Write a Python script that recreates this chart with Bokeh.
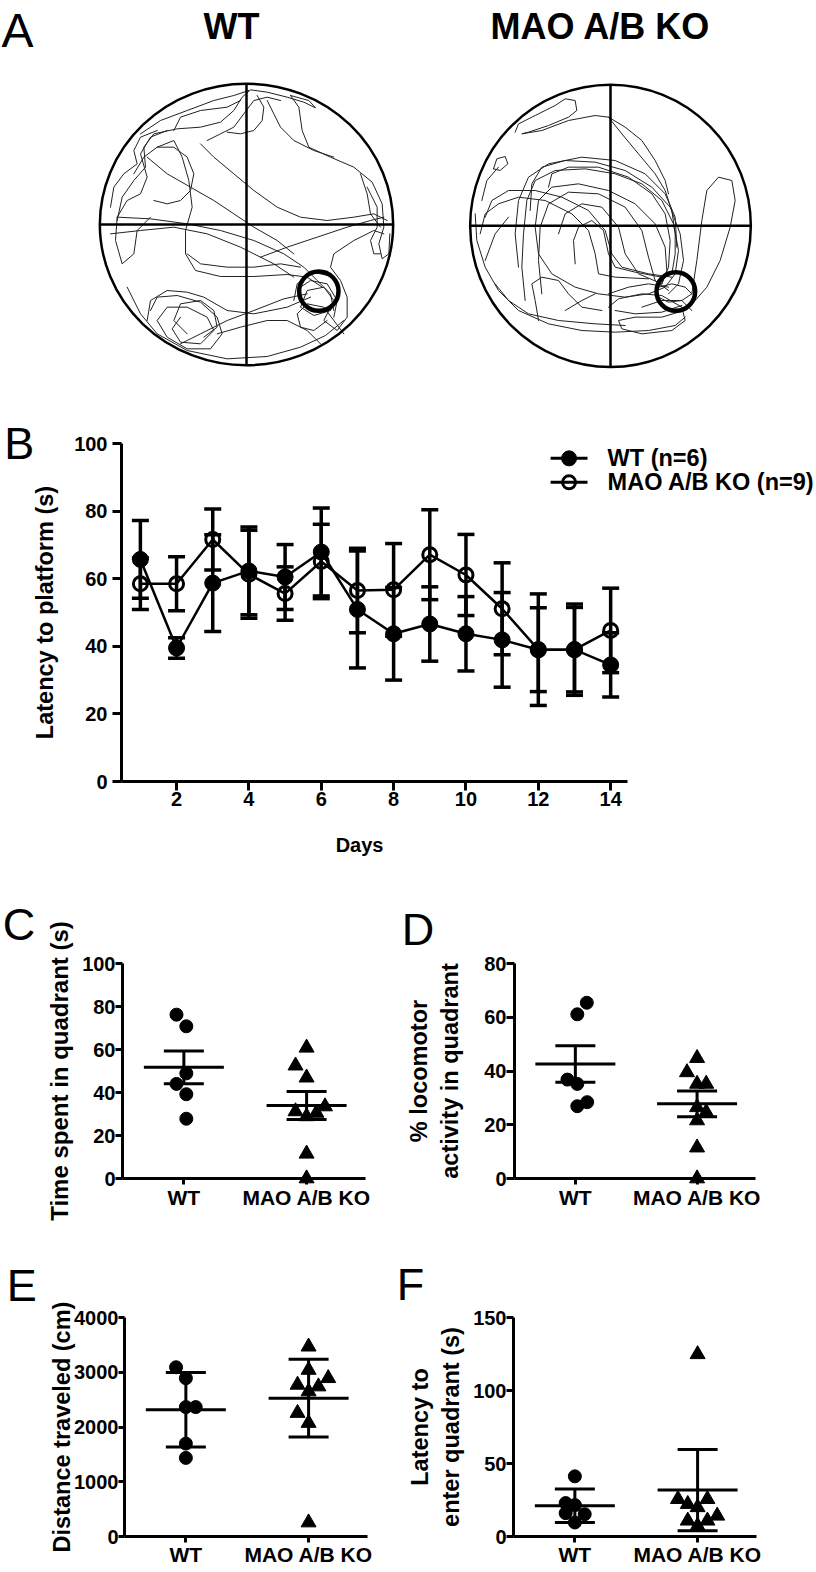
import numpy as np
from bokeh.plotting import figure
from bokeh.layouts import column, row
from bokeh.models import Range1d, FixedTicker
from bokeh.embed import file_html
from bokeh.resources import INLINE
from bokeh.core.properties import value

FONT = "Liberation Sans"

# ---------------- Panel A: swim-path traces (tracking-grid units) ----------------
wt_arena = dict(cx=738, cy=672, w=880, h=845)
wt_platform = dict(x=955, y=872, d=118)
ko_arena = dict(cx=606, cy=676, w=842, h=847)
ko_platform = dict(x=802, y=873, d=116)

wt_paths = [
    [(350, 660), (365, 590), (400, 540), (435, 500), (430, 440), (460, 400), (530, 385), (600, 380), (660, 365),
     (700, 330), (725, 290), (750, 268), (800, 275), (860, 290), (910, 305), (945, 322), (925, 300), (870, 285)],
    [(870, 285), (895, 320), (905, 390), (925, 440), (990, 470), (1060, 500), (1115, 545), (1145, 610), (1150, 680),
     (1135, 730), (1145, 775), (1165, 760), (1168, 700)],
    [(470, 440), (520, 420), (545, 470), (565, 540), (575, 620), (555, 690), (555, 760), (585, 810), (660, 828),
     (760, 828), (860, 822), (920, 830), (965, 860)],
    [(500, 390), (450, 410), (420, 460), (440, 530), (420, 580), (380, 600), (350, 650), (345, 720), (365, 790),
     (400, 760), (410, 690), (450, 650)],
    [(350, 650), (450, 655), (560, 670), (660, 690), (760, 720), (850, 760), (910, 800), (950, 840), (990, 880),
     (1000, 930)],
    [(330, 700), (420, 690), (520, 680), (620, 700), (720, 740), (820, 790), (880, 830)],
    [(450, 930), (470, 890), (530, 885), (600, 905), (650, 950), (665, 1000), (630, 1045), (560, 1045), (500, 1010),
     (470, 960), (500, 920), (560, 920), (620, 950), (640, 990), (600, 1030), (540, 1025), (515, 985), (540, 950)],
    [(880, 900), (890, 850), (940, 815), (1000, 830), (1015, 880), (990, 930), (940, 945), (900, 920), (920, 870),
     (970, 860), (1000, 900), (970, 960), (1010, 990), (1040, 950), (1040, 890), (1020, 840), (990, 800),
     (1000, 760), (1060, 720), (1120, 690), (1150, 700)],
    [(380, 860), (420, 940), (470, 1000), (560, 1050), (680, 1075), (800, 1068), (900, 1040), (975, 1005),
     (1030, 960)],
    [(920, 880), (850, 895), (760, 930), (680, 960), (600, 1000), (540, 1030)],
    [(440, 470), (500, 520), (570, 560), (640, 600), (700, 640), (760, 680), (830, 720), (880, 760)],
    [(420, 400), (480, 360), (560, 330), (640, 300), (700, 285), (745, 270)],
    [(780, 770), (860, 740), (950, 710), (1040, 680), (1110, 660), (1150, 650)],
    [(330, 620), (340, 560), (370, 520), (410, 490), (400, 450), (420, 410), (470, 390)],
    [(560, 1000), (520, 960), (540, 910), (600, 900), (640, 930), (650, 980), (610, 1010)],
    [(440, 960), (450, 900), (500, 870), (560, 875), (610, 890), (680, 930), (760, 940), (860, 920), (930, 890)],
    [(980, 960), (940, 990), (900, 980), (890, 940), (920, 910), (970, 920), (1000, 960), (1030, 1000)],
    [(900, 860), (930, 840), (980, 850), (1010, 900), (1000, 950)],
    [(600, 430), (640, 470), (700, 520), (760, 570), (830, 620), (900, 650), (980, 660), (1060, 650), (1120, 640),
     (1160, 660)],
    [(770, 285), (790, 320), (785, 360), (760, 390), (720, 400), (680, 395)],
    [(1080, 520), (1100, 580), (1110, 640), (1140, 680)],
    [(400, 520), (430, 470), (470, 440), (520, 440), (560, 470), (580, 520), (570, 570), (540, 600), (500, 610),
     (460, 600)],
    [(520, 390), (540, 350), (600, 330), (680, 320), (720, 300)],
    [(620, 420), (660, 400), (700, 380), (730, 340), (760, 300), (800, 290), (840, 300)],
    [(800, 300), (820, 340), (840, 380), (880, 420), (940, 450), (1000, 470)],
    [(1100, 560), (1130, 620), (1130, 680), (1110, 720), (1120, 760), (1140, 760)],
    [(560, 760), (600, 790), (680, 800), (760, 800), (840, 790), (900, 800)],
    [(650, 1000), (720, 980), (800, 960), (860, 960), (920, 990), (960, 1030)],
]

ko_paths = [
    [(320, 395), (330, 370), (380, 345), (440, 315), (470, 295), (500, 300), (505, 330), (480, 350), (420, 375),
     (360, 395), (340, 400), (400, 390), (480, 360), (560, 345), (600, 350), (640, 400), (690, 460), (740, 520),
     (770, 570), (790, 630), (800, 700), (800, 760), (790, 820)],
    [(255, 505), (265, 475), (290, 468), (298, 490), (275, 510), (255, 505)],
    [(350, 900), (340, 800), (345, 700), (355, 600), (380, 540), (440, 510), (530, 505), (620, 520), (700, 550),
     (760, 600), (795, 670), (810, 750), (800, 820), (770, 860), (720, 880), (650, 890), (570, 880), (500, 860),
     (430, 820), (390, 760), (380, 680), (390, 600), (430, 560), (510, 550), (600, 570), (680, 610), (740, 670),
     (770, 740), (775, 810), (760, 850)],
    [(365, 630), (370, 550), (400, 500), (470, 480), (560, 485), (650, 510), (730, 560), (785, 620), (815, 700),
     (825, 780), (810, 850), (780, 880)],
    [(230, 650), (250, 600), (300, 570), (380, 570), (460, 590), (540, 630), (590, 690), (610, 760), (640, 800),
     (720, 820), (790, 830)],
    [(500, 790), (495, 720), (510, 680), (550, 660), (585, 690), (600, 760), (620, 800), (680, 815), (760, 830)],
    [(200, 640), (205, 720), (230, 800), (270, 870), (330, 930), (420, 970), (520, 990), (620, 995), (720, 990),
     (800, 975), (830, 950)],
    [(600, 920), (630, 895), (700, 880), (760, 885), (820, 920), (830, 960), (790, 990), (700, 1000), (640, 985),
     (630, 960), (680, 950), (760, 950), (810, 935)],
    [(850, 880), (865, 780), (880, 660), (895, 570), (930, 530), (970, 540), (980, 600), (965, 680), (935, 780),
     (895, 860), (860, 900)],
    [(390, 960), (380, 900), (370, 850), (400, 830), (450, 840), (480, 880), (520, 920), (580, 930)],
    [(215, 700), (230, 640), (270, 610), (330, 590), (410, 600), (490, 640), (540, 690), (560, 760), (570, 820),
     (620, 830), (720, 835)],
    [(750, 860), (790, 850), (830, 860), (850, 880), (820, 900), (780, 905), (750, 890)],
    [(260, 850), (300, 900), (360, 940), (450, 960), (560, 970), (650, 975)],
    [(600, 350), (650, 380), (700, 420), (740, 480), (770, 540), (780, 580)],
    [(330, 800), (320, 700), (330, 600), (360, 530), (420, 490), (520, 470), (620, 480), (710, 520), (770, 580),
     (800, 650), (805, 740)],
    [(400, 880), (390, 780), (395, 680), (420, 610), (480, 575), (570, 580), (650, 620), (700, 690), (720, 770),
     (740, 840), (780, 870)],
    [(450, 700), (470, 640), (520, 610), (580, 620), (630, 680), (650, 760), (690, 820), (760, 850)],
    [(600, 880), (660, 860), (720, 850), (780, 860)],
    [(700, 920), (760, 900), (820, 900), (850, 930)],
    [(230, 780), (260, 700), (300, 650)],
    [(620, 930), (680, 940), (760, 935), (820, 915)],
    [(420, 560), (430, 520), (480, 500), (570, 500), (660, 530), (730, 580), (770, 640), (785, 720), (780, 800),
     (760, 850)],
    [(470, 930), (520, 900), (560, 880)],
    [(220, 600), (235, 540), (270, 500)],
]

# ---------------- Panel B: latency to platform ----------------
days = list(range(1, 15))
wt_mean = [65.7, 39.5, 58.7, 62.3, 60.5, 67.9, 50.9, 43.7, 46.6, 43.7, 41.9, 39.0, 39.0, 34.5]
wt_sem = [11.5, 3.0, 14.3, 13.0, 9.6, 13.0, 17.3, 13.7, 11.0, 11.0, 14.0, 16.5, 13.5, 9.5]
ko_mean = [58.5, 58.5, 71.6, 61.3, 55.6, 65.1, 56.5, 56.7, 67.1, 61.1, 51.1, 39.0, 39.0, 44.7]
ko_sem = [7.6, 8.0, 9.0, 13.0, 7.9, 11.0, 12.5, 13.7, 13.3, 12.0, 13.6, 12.4, 12.5, 12.5]
b_yticks = [0, 20, 40, 60, 80, 100]
b_xticks = [2, 4, 6, 8, 10, 12, 14]
legend_labels = ["WT (n=6)", "MAO A/B KO (n=9)"]

# ---------------- Panels C-F: probe trial ----------------
groups = ["WT", "MAO A/B KO"]

c_wt = [76.2, 70.8, 48.9, 44.0, 39.2, 27.8]
c_wt_dx = [-0.06, 0.02, 0.02, -0.06, 0.02, 0.02]
c_ko = [60.8, 52.5, 46.9, 33.5, 31.2, 30.5, 28.9, 11.5, 0.0]
c_ko_dx = [0.0, -0.09, 0.0, 0.15, -0.09, 0.08, 0.0, 0.0, 0.0]
c_mean = [51.7, 34.0]
c_err = [7.6, 6.5]

d_wt = [65.4, 61.1, 36.8, 35.2, 28.4, 26.9]
d_wt_dx = [0.094, 0.016, -0.065, 0.016, 0.097, 0.016]
d_ko = [44.8, 39.5, 35.2, 35.2, 26.5, 24.7, 21.6, 11.5, 0.0]
d_ko_dx = [0.0, -0.083, 0.0, 0.075, 0.0, 0.075, 0.0, 0.0, 0.0]
d_mean = [42.6, 27.8]
d_err = [6.8, 4.8]

e_wt = [3091, 2891, 2364, 2364, 1697, 1436]
e_wt_dx = [-0.08, 0.0, 0.0, 0.08, 0.0, 0.0]
e_ko = [3467, 3042, 2891, 2770, 2739, 2648, 2255, 2073, 255]
e_ko_dx = [0.0, 0.0, 0.16, -0.09, 0.08, 0.0, -0.09, 0.0, 0.0]
e_mean = [2315, 2527]
e_err = [679, 709]

f_wt = [41.2, 22.9, 21.5, 16.0, 15.3, 9.6]
f_wt_dx = [0.0, -0.075, 0.0, -0.075, 0.08, 0.0]
f_ko = [124.8, 25.6, 25.6, 22.2, 20.0, 14.2, 10.8, 10.8, 7.3]
f_ko_dx = [0.0, -0.16, 0.08, -0.08, 0.0, 0.16, -0.08, 0.08, 0.0]
f_mean = [21.1, 31.8]
f_err = [11.5, 27.8]


# ---------------- helpers ----------------
def base_fig(width, height, x_range, y_range, bl, br, bt, bb, **kw):
    p = figure(width=width, height=height, x_range=x_range, y_range=y_range,
               min_border_left=bl, min_border_right=br, min_border_top=bt, min_border_bottom=bb,
               toolbar_location=None, output_backend="svg", **kw)
    p.outline_line_color = None
    p.background_fill_color = "white"
    p.border_fill_color = "white"
    p.xgrid.visible = False
    p.ygrid.visible = False
    return p


def style_axis(ax, tick_out, standoff, tick_size="20px", label_size="23.5px", label_standoff=5):
    ax.axis_line_width = 3
    ax.axis_line_color = "black"
    ax.major_tick_line_width = 3
    ax.major_tick_line_color = "black"
    ax.major_tick_in = 0
    ax.major_tick_out = tick_out
    ax.minor_tick_line_color = None
    ax.major_label_standoff = standoff
    ax.major_label_text_font = FONT
    ax.major_label_text_font_style = "bold"
    ax.major_label_text_font_size = tick_size
    ax.major_label_text_color = "black"
    ax.axis_label_text_font = FONT
    ax.axis_label_text_font_style = "bold"
    ax.axis_label_text_font_size = label_size
    ax.axis_label_text_color = "black"
    ax.axis_label_standoff = label_standoff


def free_text(p, text, x, y, size, style="normal", align="left"):
    # text drawn at overlay level so it is not clipped to the plot frame; y is the text's middle
    p.text(x=[x], y=[y], text=[text], text_font=value(FONT), text_font_style=style,
           text_font_size=size, text_align=align, text_baseline="middle", text_color="black",
           level="overlay")


def arena_fig(width, x_range, y_range, arena, platform, paths, title, title_x, panel_letter=None):
    p = figure(width=width, height=400, x_range=Range1d(*x_range), y_range=Range1d(*y_range),
               x_axis_location=None, y_axis_location=None, min_border=0,
               toolbar_location=None, output_backend="svg")
    p.outline_line_color = None
    p.background_fill_color = "white"
    p.border_fill_color = "white"
    p.xgrid.visible = False
    p.ygrid.visible = False
    xs = [[pt[0] for pt in s] for s in paths]
    ys = [[pt[1] for pt in s] for s in paths]
    p.multi_line(xs, ys, line_color="#222222", line_width=1.0, line_join="round", line_cap="round")
    cx, cy, w, h = arena["cx"], arena["cy"], arena["w"], arena["h"]
    p.ellipse(x=[cx], y=[cy], width=[w], height=[h], fill_color=None, line_color="black", line_width=2.5)
    p.segment(x0=[cx - w / 2, cx], y0=[cy, cy - h / 2], x1=[cx + w / 2, cx], y1=[cy, cy + h / 2],
              line_color="black", line_width=2.5)
    p.ellipse(x=[platform["x"]], y=[platform["y"]], width=[platform["d"]], height=[platform["d"]],
              fill_color=None, line_color="black", line_width=4.5)
    free_text(p, title, title_x, 77, "36px", style="bold", align="center")
    if panel_letter:
        free_text(p, panel_letter, 3, 89, "48px")
    return p


def dot_panel(width, height, bl, br, bt, bb, y_range, yticks, ylabel, wt, wt_dx, ko, ko_dx, mean, err,
              ytick_out, ylab_size, ylab_standoff, xtick_out=6, xtick_standoff=1,
              letter_text=None, letter_xy=None):
    p = base_fig(width, height, Range1d(0.5, 2.48), Range1d(*y_range), bl, br, bt, bb)
    style_axis(p.xaxis[0], xtick_out, xtick_standoff, tick_size="21px")
    style_axis(p.yaxis[0], ytick_out, 0, label_size=ylab_size, label_standoff=ylab_standoff)
    p.xaxis.ticker = FixedTicker(ticks=[1, 2])
    p.xaxis.major_label_overrides = {1: groups[0], 2: groups[1]}
    p.yaxis.ticker = FixedTicker(ticks=yticks)
    p.yaxis.axis_label = ylabel
    xw = [1 + d for d in wt_dx]
    xk = [2 + d for d in ko_dx]
    # overlay level: markers sitting on the x axis (value 0) are drawn whole, not clipped
    p.scatter(xw, wt, marker="circle", size=13, fill_color="black", line_color="black", level="overlay")
    p.scatter(xk, ko, marker="triangle", size=15, fill_color="black", line_color="black", level="overlay")
    cats = [1, 2]
    m = np.array(mean, dtype=float)
    e = np.array(err, dtype=float)
    p.segment(cats, list(m - e), cats, list(m + e), line_color="black", line_width=3)
    p.scatter(cats, list(m), marker="dash", size=80, line_color="black", line_width=3)
    p.scatter(cats + cats, list(m - e) + list(m + e), marker="dash", size=40, line_color="black", line_width=3)
    if letter_text:
        free_text(p, letter_text, letter_xy[0], letter_xy[1], "45px")
    return p


# ---------------- Panel A ----------------
pA1 = arena_fig(408, (0, 1224), (1200, 0), wt_arena, wt_platform, wt_paths, "WT", 693, "A")
pA2 = arena_fig(408, (0, 1224), (1200, 0), ko_arena, ko_platform, ko_paths, "MAO A/B KO", 576)

# ---------------- Panel B ----------------
pB = base_fig(816, 480, Range1d(0.478, 19.69), Range1d(0, 100), 121, 0, 43, 99)
style_axis(pB.xaxis[0], 9, 1)
style_axis(pB.yaxis[0], 9, 5, label_standoff=13)
pB.xaxis.ticker = FixedTicker(ticks=b_xticks)
pB.xaxis.bounds = (0.478, 14.47)
pB.yaxis.ticker = FixedTicker(ticks=b_yticks)
pB.yaxis.axis_label = "Latency to platform (s)"

for mean, sem in [(wt_mean, wt_sem), (ko_mean, ko_sem)]:
    m = np.array(mean)
    s = np.array(sem)
    pB.segment(days, list(m - s), days, list(m + s), line_color="black", line_width=3.5)
    pB.scatter(days + days, list(m - s) + list(m + s), marker="dash", size=17,
               line_color="black", line_width=3.5)
pB.line(days, wt_mean, line_color="black", line_width=2.5)
pB.line(days, ko_mean, line_color="black", line_width=2.5)
pB.scatter(days, wt_mean, marker="circle", size=16, fill_color="black", line_color="black")
pB.scatter(days, ko_mean, marker="circle", size=14, fill_color=None, line_color="black", line_width=3)

# legend (inside the extended frame, to the right of the x-axis end)
leg_y = [95.6, 88.5]
pB.segment(x0=[12.34, 12.34], y0=leg_y, x1=[13.36, 13.36], y1=leg_y, line_color="black", line_width=3)
pB.scatter([12.85], [leg_y[0]], marker="circle", size=15, fill_color="black", line_color="black")
pB.scatter([12.85], [leg_y[1]], marker="circle", size=13, fill_color=None, line_color="black", line_width=3)
for lab, yy in zip(legend_labels, leg_y):
    free_text(pB, lab, 13.915, yy, "23.5px", style="bold")
free_text(pB, "Days", 7.058, -18.9, "20px", style="bold", align="center")
free_text(pB, "B", -2.76, 100.1, "45px")

# ---------------- Panels C-F ----------------
pC = dot_panel(396, 360, 122, 31, 83, 61, (0, 100), [0, 20, 40, 60, 80, 100], "Time spent in quadrant (s)",
               c_wt, c_wt_dx, c_ko, c_ko_dx, c_mean, c_err, ytick_out=7, ylab_size="24px", ylab_standoff=6,
               letter_text="C", letter_xy=(-0.476, 118.0))
pD = dot_panel(420, 360, 118, 61, 82, 62, (0, 80), [0, 20, 40, 60, 80], "% locomotor\nactivity in quadrant",
               d_wt, d_wt_dx, d_ko, d_ko_dx, d_mean, d_err, ytick_out=8, ylab_size="23.5px", ylab_standoff=18,
               letter_text="D", letter_xy=(-0.427, 92.8))
pE = dot_panel(396, 332, 124, 29, 76, 36, (0, 4000), [0, 1000, 2000, 3000, 4000], "Distance traveled (cm)",
               e_wt, e_wt_dx, e_ko, e_ko_dx, e_mean, e_err, ytick_out=6, ylab_size="23.5px", ylab_standoff=-4,
               xtick_out=6, xtick_standoff=0, letter_text="E", letter_xy=(-0.459, 4582))
pF = dot_panel(420, 332, 117, 60, 77, 36, (0, 150), [0, 50, 100, 150], "Latency to\nenter quadrant (s)",
               f_wt, f_wt_dx, f_ko, f_ko_dx, f_mean, f_err, ytick_out=7, ylab_size="23.5px", ylab_standoff=6,
               xtick_out=6, xtick_standoff=0, letter_text="F", letter_xy=(-0.451, 172.6))

layout = column(row(pA1, pA2), pB, row(pC, pD), row(pE, pF))

html = file_html(layout, INLINE, "MAO A/B KO water maze")
with open("out.html", "w") as fh:
    fh.write(html)
